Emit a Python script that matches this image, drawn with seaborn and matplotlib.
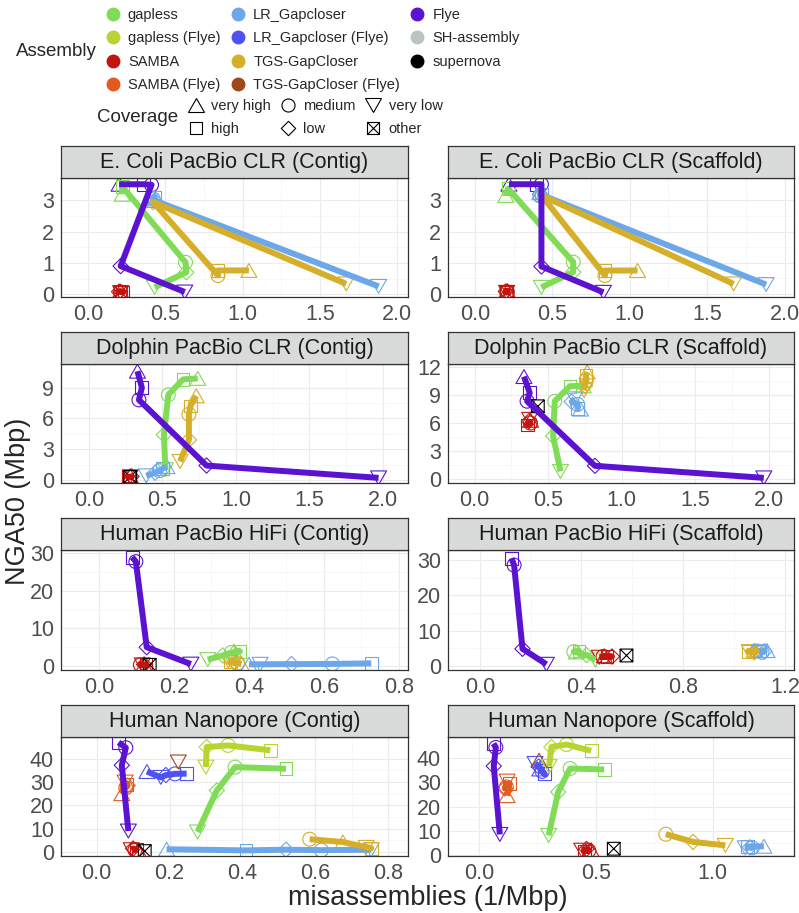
import matplotlib
matplotlib.use("Agg")
import matplotlib.pyplot as plt
import pandas as pd
import seaborn as sns
from matplotlib.lines import Line2D
from matplotlib.markers import MarkerStyle
from matplotlib.path import Path
from matplotlib.transforms import Affine2D

sns.set_style("white")
plt.rcParams["font.family"] = ["Liberation Sans", "DejaVu Sans"]

ASSEMBLIES = ["gapless", "gapless (Flye)", "SAMBA", "SAMBA (Flye)",
              "LR_Gapcloser", "LR_Gapcloser (Flye)", "TGS-GapCloser",
              "TGS-GapCloser (Flye)", "Flye", "SH-assembly", "supernova"]
COLORS = ["#80DB57", "#B7D531", "#C41410", "#E15A1E", "#6CA7EA", "#4F51F1",
          "#D5AE2A", "#A1481A", "#5B12D1", "#B9C5C3", "#000000"]
PALETTE = dict(zip(ASSEMBLIES, COLORS))
COVERAGES = ["very high", "high", "medium", "low", "very low", "other"]

NAMES = {"G": "gapless", "GF": "gapless (Flye)", "S": "SAMBA", "SF": "SAMBA (Flye)",
         "L": "LR_Gapcloser", "LF": "LR_Gapcloser (Flye)", "T": "TGS-GapCloser",
         "TF": "TGS-GapCloser (Flye)", "F": "Flye", "SH": "SH-assembly", "SN": "supernova"}
COV = {"vh": "very high", "h": "high", "m": "medium", "l": "low", "vl": "very low", "o": "other"}
C5 = ["vl", "l", "m", "h", "vh"]
C4 = ["vl", "l", "m", "h"]

# E. Coli PacBio CLR (Contig)
p1_asm = ["F"] * 5 + ["G"] * 5 + ["T"] * 5 + ["L"] * 5 + ["S"] * 6
p1_cov = C5 * 4 + C5 + ["o"]
p1_x = [0.625, 0.21, 0.41, 0.36, 0.20,  0.43, 0.635, 0.63, 0.22, 0.22,
        1.67, 0.42, 0.84, 0.84, 1.04,  1.88, 0.43, 0.42, 0.43, 0.43,
        0.21, 0.20, 0.21, 0.22, 0.21, 0.21]
p1_y = [0.07, 0.9, 3.5, 3.52, 3.52,  0.22, 0.7, 1.02, 3.45, 3.2,
        0.33, 2.95, 0.6, 0.76, 0.76,  0.25, 3.0, 3.05, 3.1, 3.0,
        0.05, 0.08, 0.07, 0.06, 0.1, 0.07]

# E. Coli PacBio CLR (Scaffold)
p2_asm = ["F"] * 5 + ["G"] * 5 + ["T"] * 5 + ["L"] * 5 + ["S"] * 6
p2_cov = C5 * 4 + C5 + ["o"]
p2_x = [0.83, 0.43, 0.43, 0.40, 0.22,  0.43, 0.635, 0.635, 0.215, 0.20,
        1.67, 0.43, 0.84, 0.84, 1.05,  1.88, 0.42, 0.42, 0.43, 0.42,
        0.205, 0.20, 0.21, 0.205, 0.21, 0.205]
p2_y = [0.05, 0.88, 3.52, 3.52, 3.52,  0.21, 0.7, 1.02, 3.38, 3.16,
        0.32, 3.16, 0.59, 0.75, 0.75,  0.3, 3.2, 3.15, 3.2, 3.25,
        0.05, 0.08, 0.06, 0.04, 0.1, 0.06]

# Dolphin PacBio CLR (Contig)
p3_asm = ["F"] * 5 + ["G"] * 5 + ["T"] * 5 + ["L"] * 5 + ["S"] * 5 + ["SN"]
p3_cov = C5 * 5 + ["o"]
p3_x = [1.97, 0.80, 0.34, 0.36, 0.33,  0.52, 0.51, 0.54, 0.64, 0.74,
        0.62, 0.68, 0.68, 0.69, 0.73,  0.39, 0.45, 0.48, 0.50, 0.53,
        0.28, 0.29, 0.28, 0.27, 0.28,  0.28]
p3_y = [0.2, 1.4, 7.8, 9.0, 10.6,  1.0, 4.4, 8.3, 9.8, 9.9,
        1.8, 3.9, 6.4, 7.2, 8.2,  0.4, 0.7, 0.9, 1.1, 1.3,
        0.3, 0.35, 0.25, 0.3, 0.4,  0.3]

# Dolphin PacBio CLR (Scaffold)
p4_asm = ["F"] * 5 + ["G"] * 5 + ["T"] * 5 + ["L"] * 5 + ["S"] * 5 + ["SN"]
p4_cov = C5 * 5 + ["o"]
p4_x = [1.965, 0.818, 0.357, 0.375, 0.336,  0.584, 0.534, 0.545, 0.648, 0.738,
        0.745, 0.75, 0.76, 0.757, 0.765,  0.68, 0.66, 0.70, 0.70, 0.72,
        0.375, 0.37, 0.38, 0.36, 0.38,  0.43]
p4_y = [0.1, 1.4, 8.35, 9.25, 11.0,  0.8, 4.6, 8.35, 9.96, 10.0,
        9.5, 10.0, 10.6, 11.1, 11.5,  8.6, 8.3, 8.0, 7.6, 7.5,
        6.4, 6.2, 6.0, 5.8, 6.3,  7.8]

# Human PacBio HiFi (Contig)
p5_asm = ["F"] * 4 + ["G"] * 5 + ["T"] * 5 + ["L"] * 5 + ["S"] * 5 + ["SN"]
p5_cov = C4 + C5 + C5 + ["vh", "vl", "l", "m", "h"] + C5 + ["o"]
p5_x = [0.245, 0.127, 0.098, 0.088,  0.29, 0.33, 0.353, 0.376, 0.36,
        0.345, 0.36, 0.37, 0.35, 0.38,  0.40, 0.43, 0.514, 0.623, 0.727,
        0.115, 0.12, 0.11, 0.125, 0.12,  0.135]
p5_y = [0.5, 5.0, 27.8, 29.0,  1.7, 2.8, 3.6, 3.9, 4.0,
        1.4, 1.0, 0.8, 1.1, 0.5,  0.45, 0.45, 0.5, 0.55, 0.7,
        0.3, 0.4, 0.3, 0.3, 0.5,  0.3]

# Human PacBio HiFi (Scaffold)
p6_asm = ["F"] * 4 + ["G"] * 5 + ["S"] * 5 + ["SN"] + ["T"] * 5 + ["L"] * 5
p6_cov = C4 + C5 + C5 + ["o"] + C5 + C5
p6_x = [0.262, 0.168, 0.135, 0.125,  0.455, 0.42, 0.37, 0.39, 0.38,
        0.47, 0.52, 0.485, 0.50, 0.49,  0.577,
        1.06, 1.08, 1.09, 1.055, 1.08,  1.10, 1.12, 1.11, 1.10, 1.13]
p6_y = [0.4, 4.8, 28.6, 30.5,  1.6, 3.0, 4.0, 4.2, 3.9,
        2.4, 2.6, 2.6, 2.6, 2.8,  2.9,
        4.0, 3.8, 4.2, 4.1, 4.4,  4.0, 4.1, 3.8, 4.2, 4.3]

# Human Nanopore (Contig)
p7_asm = (["F"] * 4 + ["SF"] * 5 + ["LF"] * 5 + ["TF"] + ["GF"] * 4 + ["G"] * 4
          + ["L"] * 5 + ["T"] * 4 + ["S"] * 5 + ["SN"])
p7_cov = (C4 + C5 + ["vh", "vl", "l", "m", "h"] + ["vl"] + C4 + C4
          + ["vh", "h", "l", "m", "vl"] + ["m", "vh", "h", "vl"] + C5 + ["o"])
p7_x = [0.087, 0.069, 0.08, 0.06,  0.078, 0.085, 0.08, 0.082, 0.069,
        0.138, 0.176, 0.19, 0.215, 0.247,  0.224,
        0.30, 0.302, 0.361, 0.477,  0.277, 0.33, 0.38, 0.52,
        0.192, 0.41, 0.52, 0.617, 0.754,  0.585, 0.676, 0.754, 0.74,
        0.095, 0.10, 0.105, 0.11, 0.114,  0.132]
p7_y = [9.0, 37.2, 44.7, 47.0,  30.0, 28.5, 27.5, 28.8, 25.0,
        34.5, 32.0, 33.0, 33.5, 33.6,  38.6,
        36.4, 45.0, 45.7, 43.6,  8.6, 26.4, 36.4, 35.7,
        1.2, 0.7, 1.0, 0.8, 1.0,  5.5, 4.3, 1.6, 2.0,
        1.0, 1.5, 0.8, 1.2, 0.9,  0.4]

# Human Nanopore (Scaffold)
p8_asm = (["F"] * 4 + ["SF"] * 5 + ["LF"] * 5 + ["TF"] + ["GF"] * 4 + ["G"] * 4
          + ["T"] * 3 + ["L"] * 5 + ["S"] * 5 + ["SN"])
p8_cov = (C4 + C5 + C5 + ["vh"] + C4 + C4 + ["m", "l", "vl"] + C5 + C5 + ["o"])
p8_x = [0.089, 0.063, 0.072, 0.062,  0.12, 0.11, 0.117, 0.13, 0.12,
        0.24, 0.255, 0.27, 0.28, 0.26,  0.257,
        0.30, 0.31, 0.375, 0.48,  0.298, 0.339, 0.39, 0.536,
        0.80, 0.917, 1.055,  1.14, 1.16, 1.17, 1.15, 1.22,
        0.44, 0.46, 0.47, 0.45, 0.48,  0.577]
p8_y = [8.5, 36.7, 44.4, 46.0,  30.5, 27.5, 28.1, 29.5, 24.5,
        37.8, 36.5, 34.5, 33.5, 35.5,  39.1,
        36.5, 44.6, 45.6, 43.0,  8.1, 26.0, 35.7, 35.3,
        8.6, 5.4, 4.0,  3.0, 3.2, 3.0, 3.5, 3.6,
        2.0, 2.5, 1.8, 1.5, 2.2,  2.6]

PANELS = [
    ("E. Coli PacBio CLR (Contig)", p1_asm, p1_cov, p1_x, p1_y),
    ("E. Coli PacBio CLR (Scaffold)", p2_asm, p2_cov, p2_x, p2_y),
    ("Dolphin PacBio CLR (Contig)", p3_asm, p3_cov, p3_x, p3_y),
    ("Dolphin PacBio CLR (Scaffold)", p4_asm, p4_cov, p4_x, p4_y),
    ("Human PacBio HiFi (Contig)", p5_asm, p5_cov, p5_x, p5_y),
    ("Human PacBio HiFi (Scaffold)", p6_asm, p6_cov, p6_x, p6_y),
    ("Human Nanopore (Contig)", p7_asm, p7_cov, p7_x, p7_y),
    ("Human Nanopore (Scaffold)", p8_asm, p8_cov, p8_x, p8_y),
]
XTICKS = [[0, 0.5, 1, 1.5, 2]] * 4 + [[0, 0.2, 0.4, 0.6, 0.8], [0, 0.4, 0.8, 1.2],
                                      [0, 0.2, 0.4, 0.6, 0.8], [0, 0.5, 1.0]]
XLIMS = [(-0.176, 2.07), (-0.173, 2.06), (-0.19, 2.17), (-0.18, 2.17),
         (-0.102, 0.825), (-0.125, 1.236), (-0.098, 0.855), (-0.133, 1.349)]
YTICKS = [[0, 1, 2, 3]] * 2 + [[0, 3, 6, 9], [0, 3, 6, 9, 12]] + [[0, 10, 20, 30]] * 2 \
    + [[0, 10, 20, 30, 40]] * 2
YLIMS = [(-0.09, 3.72), (-0.1, 3.72), (-0.3, 11.3), (-0.45, 12.35),
         (-1.07, 30.9), (-1.23, 32.9), (-1.7, 49.3), (-0.4, 48.7)]

# marker shapes (open), roughly like ggplot shapes 2, 0, 1, 5, 6, 7
diamond = Path([(0, 1), (1, 0), (0, -1), (-1, 0), (0, 1)], closed=True)
boxx = Path([(-1, -1), (1, -1), (1, 1), (-1, 1), (-1, -1), (-1, -1), (1, 1), (-1, 1), (1, -1)],
            [Path.MOVETO, Path.LINETO, Path.LINETO, Path.LINETO, Path.CLOSEPOLY,
             Path.MOVETO, Path.LINETO, Path.MOVETO, Path.LINETO])
MARKERS = {
    "very high": MarkerStyle("^", transform=Affine2D().scale(1.15, 1.0)),
    "high": MarkerStyle("s", transform=Affine2D().scale(0.92)),
    "medium": MarkerStyle("o"),
    "low": MarkerStyle(diamond, transform=Affine2D().scale(1.1)),
    "very low": MarkerStyle("v", transform=Affine2D().scale(1.15, 1.0)),
    "other": MarkerStyle(boxx, transform=Affine2D().scale(0.92)),
}

W, H = 799, 913
fig = plt.figure(figsize=(W / 100, H / 100), dpi=100)

COL_X = [(61, 408), (448, 794)]
ROW_Y = [(178, 297), (364, 483), (550, 670), (737, 856)]
STRIP = 32


def fbox(x0, y0, x1, y1):
    return [x0 / W, 1 - y1 / H, (x1 - x0) / W, (y1 - y0) / H]


for i, (title, asm, cov, xs, ys) in enumerate(PANELS):
    (x0, x1), (y0, y1) = COL_X[i % 2], ROW_Y[i // 2]
    ax = fig.add_axes(fbox(x0, y0, x1, y1))
    df = pd.DataFrame({"assembly": [NAMES[a] for a in asm],
                       "coverage": [COV[c] for c in cov],
                       "mis": xs, "nga50": ys})

    # open markers
    sns.scatterplot(data=df, x="mis", y="nga50", hue="assembly", style="coverage",
                    palette=PALETTE, markers=MARKERS, s=100, linewidth=0.8,
                    legend=False, ax=ax, zorder=2)
    pts = ax.collections[-1]
    pts.set_edgecolors(pts.get_facecolors())
    pts.set_facecolors("none")

    # thick paths through the coverage levels
    sns.lineplot(data=df, x="mis", y="nga50", hue="assembly", hue_order=ASSEMBLIES,
                 palette=PALETTE, estimator=None, sort=False, lw=4.3,
                 solid_capstyle="butt", solid_joinstyle="round",
                 legend=False, ax=ax, zorder=3)

    ax.set_xlim(*XLIMS[i])
    ax.set_ylim(*YLIMS[i])
    xt, yt = XTICKS[i], YTICKS[i]
    ax.set_xticks(xt)
    ax.set_yticks(yt)
    ax.set_xticklabels([f"{v:.1f}" for v in xt])
    ax.set_yticklabels([f"{v:g}" for v in yt])
    ax.set_xticks([(a + b) / 2 for a, b in zip(xt[:-1], xt[1:])], minor=True)
    ax.set_yticks([(a + b) / 2 for a, b in zip(yt[:-1], yt[1:])], minor=True)
    ax.grid(True, which="major", color="#EBEBEB", lw=0.8)
    ax.grid(True, which="minor", color="#F4F4F4", lw=0.5)
    ax.set_axisbelow(True)
    ax.tick_params(which="major", length=3, width=0.8, color="#333333",
                   labelsize=15.5, labelcolor="#4D4D4D", pad=2)
    ax.tick_params(which="minor", length=0)
    for sp in ax.spines.values():
        sp.set_color("#333333")
        sp.set_linewidth(0.9)
    ax.set_xlabel("")
    ax.set_ylabel("")

    # facet strip
    sax = fig.add_axes(fbox(x0, y0 - STRIP, x1, y0))
    sax.set_facecolor("#D9DBDB")
    sax.set_xticks([])
    sax.set_yticks([])
    for sp in sax.spines.values():
        sp.set_color("#333333")
        sp.set_linewidth(0.9)
    sax.text(0.5, 0.48, title, ha="center", va="center", fontsize=15.5,
             color="#1A1A1A", transform=sax.transAxes)

fig.text(427.5 / W, 1 - 905 / H, "misassemblies (1/Mbp)", ha="center", va="baseline",
         fontsize=19.5)
fig.text(18 / W, 1 - 501 / H, "NGA50 (Mbp)", ha="center", va="center",
         rotation=90, fontsize=19.5)

# legends
asm_handles = [Line2D([], [], ls="", marker="o", markersize=9, color=PALETTE[a])
               for a in ASSEMBLIES]
fig.legend(asm_handles, ASSEMBLIES, ncol=3, loc="upper left",
           bbox_to_anchor=(106 / W, 1 - 8 / H), frameon=False, fontsize=10.5,
           handlelength=0.9, handletextpad=0.6, columnspacing=0.75,
           labelspacing=0.64, borderaxespad=0, borderpad=0)
fig.text(97 / W, 1 - 51 / H, "Assembly", ha="right", va="center", fontsize=13.5)

cov_handles = [Line2D([], [], ls="", marker=MARKERS[c], markersize=9.4, mfc="none",
                      mec="black", mew=0.8) for c in COVERAGES]
fig.legend(cov_handles, COVERAGES, ncol=3, loc="upper left",
           bbox_to_anchor=(189 / W, 1 - 99 / H), frameon=False, fontsize=10.5,
           handlelength=0.9, handletextpad=0.6, columnspacing=0.75,
           labelspacing=0.64, borderaxespad=0, borderpad=0)
fig.text(178 / W, 1 - 118 / H, "Coverage", ha="right", va="center", fontsize=13.5)

fig.savefig("out.png", dpi=100)
